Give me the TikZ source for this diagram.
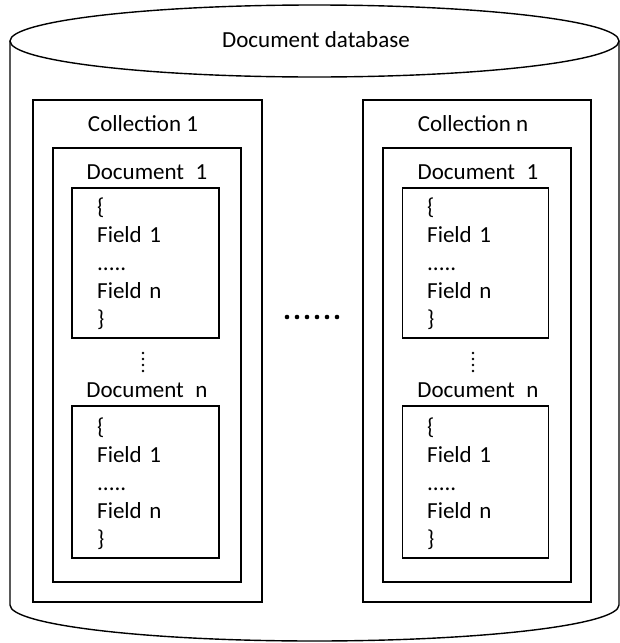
\documentclass[tikz,border=0pt]{standalone}
\usepackage{fontspec}
\setmainfont{Carlito}
\begin{document}
\begin{tikzpicture}[x=1pt,y=-1pt,
  cyl/.style={line width=1.4pt},
  box/.style={draw,line width=1.7pt,rectangle,inner sep=0pt},
  lbl/.style={font=\fontsize{23}{28}\selectfont,inner sep=0pt,anchor=center},
  fields/.style={font=\fontsize{23}{28}\selectfont,inner sep=0pt,anchor=west,align=left,text width=120pt},
  dotb/.style={fill=black,circle,inner sep=0pt,minimum size=4.6pt},
  dots/.style={fill=black,circle,inner sep=0pt,minimum size=2.6pt}]
\useasboundingbox (0,0) rectangle (620,643);
% cylinder
\draw[cyl] (314.5,41) ellipse [x radius=304.5, y radius=36];
\draw[cyl] (10,41) -- (10,605) arc[start angle=180, end angle=0, x radius=304.5, y radius=36] -- (619,41);
\node[lbl] (db) at (316,40) {Document database};
% collection 1
\node[box,minimum width=229pt,minimum height=502pt] (c1) at (147.5,351) {};
\node[lbl] (c1l) at (143,124) {Collection 1};
\node[box,minimum width=188pt,minimum height=434pt] (d1box) at (147,365) {};
\node[lbl] (d1a) at (147,172) {Document\hspace{0.5em}1};
\node[box,minimum width=147pt,minimum height=150pt] (i11) at (145.5,263) {};
\node[fields] (f11) at (97,264) {\{\\Field 1\\.....\\Field n\\\}};
\node[dots] (v1a) at (143,353) {};
\node[dots] (v1b) at (143,359) {};
\node[dots] (v1c) at (143,365) {};
\node[dots] (v1d) at (143,371) {};
\node[lbl] (d1n) at (147,390) {Document\hspace{0.5em}n};
\node[box,minimum width=147pt,minimum height=152pt] (i12) at (145.5,482) {};
\node[fields] (f12) at (97,484) {\{\\Field 1\\.....\\Field n\\\}};
% middle dots
\node[dotb] (m1) at (287,317) {};
\node[dotb] (m2) at (297,317) {};
\node[dotb] (m3) at (307,317) {};
\node[dotb] (m4) at (317,317) {};
\node[dotb] (m5) at (327,317) {};
\node[dotb] (m6) at (337,317) {};
% collection n
\node[box,minimum width=228pt,minimum height=502pt] (cn) at (477,351) {};
\node[lbl] (cnl) at (473,124) {Collection n};
\node[box,minimum width=188pt,minimum height=434pt] (dnbox) at (477,365) {};
\node[lbl] (dn1) at (478,172) {Document\hspace{0.5em}1};
\node[box,minimum width=146pt,minimum height=150pt] (in1) at (475.5,263) {};
\node[fields] (fn1) at (427,264) {\{\\Field 1\\.....\\Field n\\\}};
\node[dots] (vna) at (473,353) {};
\node[dots] (vnb) at (473,359) {};
\node[dots] (vnc) at (473,365) {};
\node[dots] (vnd) at (473,371) {};
\node[lbl] (dnn) at (478,390) {Document\hspace{0.5em}n};
\node[box,minimum width=146pt,minimum height=152pt] (in2) at (475.5,482) {};
\node[fields] (fn2) at (427,484) {\{\\Field 1\\.....\\Field n\\\}};
\end{tikzpicture}
\end{document}
